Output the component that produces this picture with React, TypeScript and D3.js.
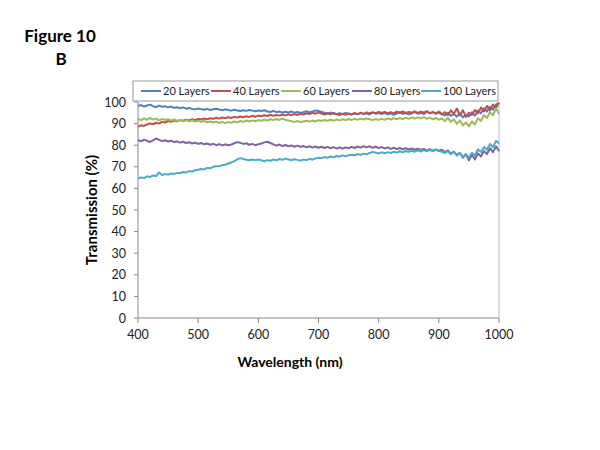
import React from "react";
import * as d3 from "d3";

// wavelength grid, nm
const wavelengths = d3.range(400, 1001, 5);

const seriesNames = ["20 Layers", "40 Layers", "60 Layers", "80 Layers", "100 Layers"];
const seriesColors = ["#4F81BD", "#C0504D", "#9BBB59", "#8064A2", "#4BACC6"];

const layers20 = [
  98.2, 98.6, 97.9, 98.4, 98.8, 98.1, 97.6, 98.3, 97.8, 98.0, 97.5,
  97.9, 97.3, 97.6, 97.1, 97.5, 96.9, 97.2, 96.8, 96.6, 97.0,
  96.7, 96.4, 96.8, 96.3, 96.6, 96.9, 96.5, 96.2, 96.6, 96.3,
  96.0, 96.4, 96.1, 95.8, 96.2, 95.9, 96.3, 96.0, 95.7, 96.1,
  95.8, 96.2, 95.6, 95.4, 95.9, 95.3, 95.6, 95.1, 95.5, 95.2,
  95.6, 95.0, 95.4, 94.9, 95.3, 95.7, 95.2, 95.6, 96.1, 95.8,
  95.4, 95.0, 94.6, 95.1, 94.7, 94.3, 94.8, 94.4, 94.9, 94.5,
  94.2, 94.7, 94.3, 95.0, 94.4, 94.8, 94.2, 95.1, 94.6, 94.9,
  94.4, 95.0, 94.3, 94.8, 94.1, 94.6, 95.2, 94.5, 94.9, 94.3,
  94.7, 95.3, 94.6, 95.0, 94.4, 95.5, 94.8, 95.2, 94.7, 95.6,
  94.5, 93.8, 95.0, 93.6, 94.4, 93.2, 94.8, 92.9, 94.0, 93.3,
  95.2, 93.7, 96.0, 94.8, 97.1, 95.6, 97.8, 96.4, 98.9, 99.5,
];

const layers40 = [
  88.6, 89.2, 88.9, 89.6, 90.1, 89.7, 90.4, 90.0, 90.8, 90.5, 91.2,
  90.8, 91.4, 91.0, 91.6, 91.3, 91.8, 91.5, 92.0, 91.6, 92.2,
  91.9, 92.4, 92.0, 92.5, 92.2, 92.7, 92.3, 92.8, 92.5, 93.0,
  92.6, 93.1, 92.8, 93.3, 92.9, 93.4, 93.1, 93.6, 93.2, 93.7,
  93.4, 93.9, 93.5, 94.1, 93.6, 94.0, 93.7, 94.2, 93.8, 94.3,
  93.9, 94.4, 94.0, 94.6, 94.2, 94.8, 94.4, 95.0, 94.6, 95.2,
  94.7, 94.2, 94.8, 94.3, 94.9, 94.4, 94.0, 94.6, 94.1, 94.7,
  94.3, 94.9, 94.4, 95.0, 94.5, 95.2, 94.7, 95.3, 94.8, 95.4,
  94.9, 95.4, 94.8, 95.3, 94.7, 95.5, 95.0, 95.6, 94.9, 95.4,
  95.0, 95.7, 94.9, 95.5, 95.1, 95.8, 94.8, 95.4, 94.6, 95.1,
  94.2, 95.3, 93.9, 96.1, 94.5, 97.0, 93.8, 96.2, 93.1, 95.0,
  94.0, 96.3, 94.8, 97.4, 95.6, 98.2, 96.1, 98.8, 97.2, 99.8,
];

const layers60 = [
  92.1, 91.6, 92.4, 91.8, 92.6, 91.9, 92.3, 91.5, 92.2, 91.7, 92.0,
  91.4, 91.9, 91.2, 91.7, 91.1, 91.6, 91.0, 91.5, 90.9, 91.3,
  90.8, 91.2, 90.6, 91.0, 90.5, 90.9, 90.3, 90.8, 90.2, 90.7,
  90.4, 91.0, 90.6, 91.2, 90.8, 91.4, 91.0, 91.5, 91.1, 91.6,
  91.3, 91.8, 91.4, 92.0, 91.6, 92.1, 91.7, 92.3, 91.8, 91.4,
  91.1, 90.8, 91.2, 90.7, 91.0, 91.3, 90.9, 91.4, 91.0, 91.6,
  91.2, 91.7, 91.3, 91.8, 91.4, 91.9, 91.5, 92.0, 91.6, 92.1,
  91.7, 92.2, 91.8, 92.3, 91.9, 92.4, 92.0, 91.6, 92.1, 91.7,
  92.2, 91.8, 92.4, 91.9, 92.5, 92.0, 92.6, 92.1, 92.7, 92.2,
  92.8, 92.3, 92.9, 92.4, 93.0, 92.2, 92.8, 92.0, 92.6, 91.8,
  92.4, 91.2, 92.6, 90.8, 92.0, 89.9, 91.4, 89.1, 90.5, 88.8,
  91.0, 89.6, 92.5, 91.2, 94.0, 92.6, 95.3, 93.8, 97.0, 94.5,
];

const layers80 = [
  82.4, 81.8, 82.6, 82.0, 81.5, 82.2, 83.1, 82.5, 81.9, 82.3, 81.7,
  82.1, 81.4, 81.8, 81.2, 81.6, 81.0, 81.4, 80.8, 81.2, 80.6,
  81.0, 80.4, 80.8, 80.2, 80.6, 80.0, 80.5, 79.9, 80.4, 80.0,
  80.3, 80.9, 81.4, 81.1, 80.6, 80.9, 80.2, 80.6, 80.0, 80.4,
  80.8, 81.3, 81.6, 81.0, 80.4, 79.8, 80.3, 79.6, 80.1, 79.5,
  79.9, 79.3, 79.8, 79.2, 79.6, 79.0, 79.5, 78.9, 79.4, 78.8,
  79.3, 78.7, 79.2, 78.6, 79.1, 78.5, 79.0, 78.4, 79.0, 78.6,
  79.2, 78.7, 79.4, 78.9, 79.6, 79.0, 79.5, 78.8, 79.3, 78.7,
  79.1, 78.5, 79.0, 78.3, 78.8, 78.2, 78.7, 78.1, 78.6, 78.0,
  78.5, 77.9, 78.4, 77.8, 78.3, 77.6, 78.2, 77.5, 78.0, 77.4,
  77.9, 76.8, 77.6, 76.2, 77.0, 75.4, 76.5, 74.2, 75.8, 73.0,
  75.6, 73.4, 76.2, 74.8, 77.3, 75.9, 78.6, 76.8, 79.5, 77.2,
];

const layers100 = [
  64.5, 65.1, 64.8, 65.6, 65.3, 66.0, 65.7, 67.4, 66.2, 66.6, 66.4,
  66.9, 66.7, 67.2, 67.0, 67.6, 67.4, 68.0, 67.8, 68.4, 68.6,
  69.0, 68.8, 69.5, 69.3, 70.0, 70.3, 70.2, 70.8, 71.0, 71.5,
  72.0, 72.6, 73.4, 74.0, 73.6, 73.3, 73.0, 73.4, 73.1, 73.4,
  73.0, 72.6, 73.1, 72.8, 73.4, 73.0, 73.6, 73.2, 73.8, 73.4,
  73.0, 73.5, 73.2, 72.8, 73.4, 73.1, 73.7, 73.3, 73.9, 74.2,
  74.0, 74.5, 74.2, 74.8, 74.4, 75.0, 74.7, 75.3, 74.9, 75.4,
  75.6, 75.3, 75.9, 75.5, 76.1, 75.8, 76.4, 76.9, 76.5, 76.2,
  76.7, 76.3, 76.8, 76.4, 77.0, 76.6, 77.2, 76.7, 77.3, 76.9,
  77.4, 77.0, 77.6, 77.1, 77.7, 77.2, 77.8, 77.3, 77.9, 77.4,
  77.0, 76.4, 77.2, 75.8, 76.9, 75.2, 76.4, 74.6, 75.8, 74.2,
  76.5, 75.2, 78.0, 76.8, 79.2, 77.9, 80.6, 79.0, 82.0, 80.8,
];

const allSeries = [layers20, layers40, layers60, layers80, layers100];
const xTicks = [400, 500, 600, 700, 800, 900, 1000];
const yTicks = [0, 10, 20, 30, 40, 50, 60, 70, 80, 90, 100];

const FONT = "Lato, 'Open Sans', sans-serif";

export default function App() {
  const x = d3.scaleLinear().domain([400, 1000]).range([138, 499]);
  const y = d3.scaleLinear().domain([0, 100]).range([318, 102]);

  const line = d3
    .line<number>()
    .x((_, i) => x(wavelengths[i]))
    .y((d) => y(d));

  // legend item x positions (line start)
  const legendX = [141, 211, 281, 352, 421];

  return (
    <svg
      width={600}
      height={450}
      style={{ position: "absolute", left: 0, top: 0, background: "#fff" }}
      fontFamily={FONT}
    >
      <rect width={600} height={450} fill="#fff" />
      <text x={60} y={42} textAnchor="middle" fontSize={17} fontWeight="bold">
        Figure 10
      </text>
      <text x={61} y={65} textAnchor="middle" fontSize={17} fontWeight="bold">
        B
      </text>

      {/* axes */}
      <line x1={x(400)} x2={x(400)} y1={y(100)} y2={y(0)} stroke="#888" />
      <line x1={x(400)} x2={x(1000)} y1={y(0)} y2={y(0)} stroke="#888" />
      <line x1={x(1000)} x2={x(1000)} y1={y(100)} y2={y(0)} stroke="#bbb" />
      {yTicks.map((t) => (
        <g key={t}>
          <line x1={x(400) - 4} x2={x(400)} y1={y(t)} y2={y(t)} stroke="#888" />
          <text x={126} y={y(t) + 4.5} textAnchor="end" fontSize={12.5} fill="#222">
            {t}
          </text>
        </g>
      ))}
      {xTicks.map((t) => (
        <g key={t}>
          <line x1={x(t)} x2={x(t)} y1={y(0)} y2={y(0) + 5} stroke="#888" />
          <text x={x(t)} y={339} textAnchor="middle" fontSize={12.5} fill="#222">
            {t}
          </text>
        </g>
      ))}

      {/* series */}
      {allSeries.map((s, i) => (
        <path
          key={i}
          d={line(s) || ""}
          fill="none"
          stroke={seriesColors[i]}
          strokeWidth={2}
          strokeLinejoin="round"
        />
      ))}

      {/* legend */}
      <rect x={133} y={81} width={365} height={20} fill="#fff" stroke="#999" />
      {seriesNames.map((n, i) => (
        <g key={n}>
          <line
            x1={legendX[i]}
            x2={legendX[i] + 20}
            y1={91}
            y2={91}
            stroke={seriesColors[i]}
            strokeWidth={2}
          />
          <text x={legendX[i] + 22} y={95} fontSize={11} fill="#222">
            {n}
          </text>
        </g>
      ))}

      <text
        transform={`translate(97,${(y(0) + y(100)) / 2}) rotate(-90)`}
        textAnchor="middle"
        fontSize={15}
        fontWeight="bold"
      >
        Transmission (%)
      </text>
      <text x={290} y={367} textAnchor="middle" fontSize={14} fontWeight="bold">
        Wavelength (nm)
      </text>
    </svg>
  );
}
